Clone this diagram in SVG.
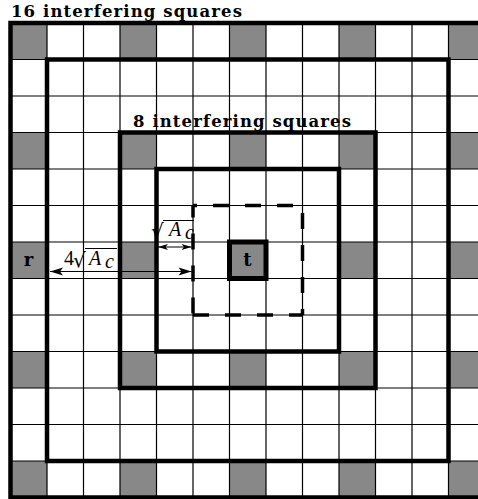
<svg xmlns="http://www.w3.org/2000/svg" width="478" height="499" viewBox="0 0 478 499">
<style>
.cell{fill:#888888}
.grid{fill:none;stroke:#000;stroke-width:1.2}
.sq{fill:none;stroke:#000;stroke-width:4.5}
.dash{fill:none;stroke:#000;stroke-width:3.5;stroke-dasharray:16 16}
.title{font-family:"DejaVu Serif",serif;font-weight:bold;font-size:16.5px;fill:#000}
.lbl{font-family:"DejaVu Serif",serif;font-weight:bold;font-size:18px;fill:#000}
.math{font-family:"Liberation Serif",serif;font-size:20px;fill:#000}
.rad{font-family:"DejaVu Sans",sans-serif;font-size:20px;fill:#000}
.it{font-style:italic}
.arr{fill:none;stroke:#000;stroke-width:1}
</style>
<defs>
<marker id="big" markerUnits="userSpaceOnUse" markerWidth="16" markerHeight="10" viewBox="-14 -5 16 10" refX="0" refY="0" orient="auto-start-reverse">
<path d="M0,0 L-13,-4 L-10,0 L-13,4 Z" fill="#000"/>
</marker>
<marker id="small" markerUnits="userSpaceOnUse" markerWidth="12" markerHeight="8" viewBox="-11 -4 12 8" refX="0" refY="0" orient="auto-start-reverse">
<path d="M0,0 L-10,-3 L-7.5,0 L-10,3 Z" fill="#000"/>
</marker>
</defs>
<rect width="478" height="499" fill="#fff"/>
<g id="cells">
<rect class="cell" x="10.5" y="23" width="36.5" height="36.5"/>
<rect class="cell" x="120" y="23" width="36.5" height="36.5"/>
<rect class="cell" x="229.5" y="23" width="36.5" height="36.5"/>
<rect class="cell" x="339" y="23" width="36.5" height="36.5"/>
<rect class="cell" x="448.5" y="23" width="36.5" height="36.5"/>
<rect class="cell" x="10.5" y="461" width="36.5" height="36.5"/>
<rect class="cell" x="120" y="461" width="36.5" height="36.5"/>
<rect class="cell" x="229.5" y="461" width="36.5" height="36.5"/>
<rect class="cell" x="339" y="461" width="36.5" height="36.5"/>
<rect class="cell" x="448.5" y="461" width="36.5" height="36.5"/>
<rect class="cell" x="10.5" y="132.5" width="36.5" height="36.5"/>
<rect class="cell" x="10.5" y="242" width="36.5" height="36.5"/>
<rect class="cell" x="10.5" y="351.5" width="36.5" height="36.5"/>
<rect class="cell" x="448.5" y="132.5" width="36.5" height="36.5"/>
<rect class="cell" x="448.5" y="242" width="36.5" height="36.5"/>
<rect class="cell" x="448.5" y="351.5" width="36.5" height="36.5"/>
<rect class="cell" x="120" y="132.5" width="36.5" height="36.5"/>
<rect class="cell" x="229.5" y="132.5" width="36.5" height="36.5"/>
<rect class="cell" x="339" y="132.5" width="36.5" height="36.5"/>
<rect class="cell" x="120" y="242" width="36.5" height="36.5"/>
<rect class="cell" x="339" y="242" width="36.5" height="36.5"/>
<rect class="cell" x="120" y="351.5" width="36.5" height="36.5"/>
<rect class="cell" x="229.5" y="351.5" width="36.5" height="36.5"/>
<rect class="cell" x="339" y="351.5" width="36.5" height="36.5"/>
<rect class="cell" x="229.5" y="242" width="36.5" height="36.5"/>
</g>
<g id="grid">
<path class="grid" d="M10.5 23V497.5M47 23V497.5M83.5 23V497.5M120 23V497.5M156.5 23V497.5M193 23V497.5M229.5 23V497.5M266 23V497.5M302.5 23V497.5M339 23V497.5M375.5 23V497.5M412 23V497.5M448.5 23V497.5M485 23V497.5M10.5 23H485M10.5 59.5H485M10.5 96H485M10.5 132.5H485M10.5 169H485M10.5 205.5H485M10.5 242H485M10.5 278.5H485M10.5 315H485M10.5 351.5H485M10.5 388H485M10.5 424.5H485M10.5 461H485M10.5 497.5H485"/>
</g>
<g id="squares">
<rect class="sq" x="10.5" y="23" width="474.5" height="474.5"/>
<rect class="sq" x="47" y="59.5" width="401.5" height="401.5"/>
<rect class="sq" x="120" y="132.5" width="255.5" height="255.5"/>
<rect class="sq" x="156.5" y="169" width="182.5" height="182.5"/>
<g id="dashed-square">
<line class="dash" x1="193" y1="205.5" x2="302.5" y2="205.5" stroke-dashoffset="12"/>
<line class="dash" x1="302.5" y1="205.5" x2="302.5" y2="315" stroke-dashoffset="24.5"/>
<line class="dash" x1="193" y1="315" x2="302.5" y2="315"/>
<line class="dash" x1="193" y1="205.5" x2="193" y2="315" stroke-dashoffset="4"/>
</g>
</g>
<g id="t">
<rect x="229.5" y="242" width="36.5" height="36.5" fill="#888888" stroke="#000" stroke-width="5"/>
<text class="lbl" x="247.5" y="266" text-anchor="middle">t</text>
</g>
<g id="r">
<text class="lbl" x="28.5" y="266" text-anchor="middle">r</text>
</g>
<g id="titles">
<text class="title" x="11" y="17" textLength="231" lengthAdjust="spacing">16 interfering squares</text>
<text class="title" x="133" y="127" textLength="218" lengthAdjust="spacing">8 interfering squares</text>
</g>
<g id="connectors">
<line class="arr" x1="50" y1="271.5" x2="191.5" y2="271.5" marker-start="url(#big)" marker-end="url(#big)"/>
<line class="arr" x1="158" y1="247" x2="191.5" y2="247" marker-start="url(#small)" marker-end="url(#small)"/>
</g>
<g id="label-4sqrt">
<text class="math" x="64" y="265">4</text>
<text class="rad" x="73" y="267" font-size="22">√</text>
<line x1="85" y1="248.5" x2="117" y2="248.5" stroke="#000" stroke-width="1"/>
<text class="math it" x="89" y="265">A</text>
<text class="math it" x="105" y="268" font-size="12">c</text>
</g>
<g id="label-sqrt">
<text class="rad" x="151" y="238" font-size="20">√</text>
<line x1="163" y1="220.5" x2="194" y2="220.5" stroke="#000" stroke-width="1"/>
<text class="math it" x="169" y="236">A</text>
<text class="math it" x="185" y="239" font-size="12">c</text>
</g>
</svg>
